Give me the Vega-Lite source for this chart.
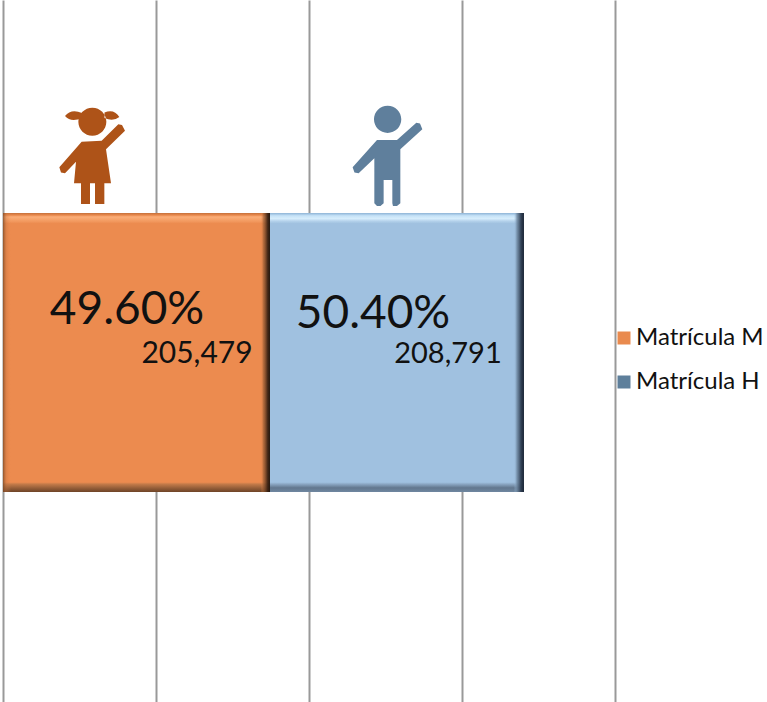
{"$schema":"https://vega.github.io/schema/vega-lite/v6.json","width":767,"height":702,"padding":0,"autosize":{"type":"none"},"background":"white","config":{"view":{"stroke":null},"text":{"font":"Lato"},"legend":{"labelFont":"Lato"}},
"data":{"values":[{"grupo":"Matrícula","serie":"Matrícula M","orden":1,"longitud":209400,"matricula":205479,"porcentaje":0.496},{"grupo":"Matrícula","serie":"Matrícula H","orden":2,"longitud":199200,"matricula":208791,"porcentaje":0.504}]},
"transform":[{"stack":"longitud","groupby":["grupo"],"sort":[{"field":"orden","order":"ascending"}],"as":["x0","x1"]}],
"encoding":{"x":{"field":"x0","type":"quantitative","title":null,"scale":{"domain":[-2353,599216],"nice":false,"zero":false},"axis":{"values":[0,120000,240000,360000,480000],"grid":true,"gridColor":"#999999","gridWidth":2,"domain":false,"ticks":false,"labels":false,"title":null}},"y":{"field":"grupo","type":"nominal","title":null,"axis":null,"scale":{"paddingInner":0,"paddingOuter":0.758,"align":0.5035}}},
"layer":[
{"mark":{"type":"bar"},"encoding":{"x2":{"field":"x1"},"color":{"field":"serie","type":"nominal","scale":{"domain":["Matrícula M","Matrícula H"],"range":["#E98A4E","#5E7F9B"]},"legend":{"title":null,"orient":"none","legendX":612,"legendY":326,"padding":0,"symbolType":"square","symbolSize":169,"symbolStrokeWidth":0,"symbolOpacity":1,"labelFontSize":24,"labelColor":"#111111","labelOffset":0,"rowPadding":20,"labelLimit":200}}}},
{"transform":[{"filter":"datum.serie==='Matrícula M'"}],"mark":{"type":"bar","fill":{"gradient":"linear","x1":0,"y1":0,"x2":0,"y2":1,"stops":[{"offset":0,"color":"#C4703A"},{"offset":0.008,"color":"#E98A4E"},{"offset":0.014,"color":"#FBAE78"},{"offset":0.03,"color":"#F2995F"},{"offset":0.038,"color":"#EC8B4F"},{"offset":0.965,"color":"#EC8B4F"},{"offset":0.972,"color":"#C27A49"},{"offset":0.988,"color":"#8F5A36"},{"offset":1,"color":"#6E4427"}]}},"encoding":{"x2":{"field":"x1"}}},
{"transform":[{"filter":"datum.serie==='Matrícula M'"}],"mark":{"type":"bar","fill":{"gradient":"linear","x1":0,"y1":0,"x2":1,"y2":0,"stops":[{"offset":0,"color":"rgba(120,70,35,0.8)"},{"offset":0.012,"color":"rgba(190,110,60,0.35)"},{"offset":0.03,"color":"rgba(236,139,79,0)"},{"offset":0.965,"color":"rgba(236,139,79,0)"},{"offset":0.975,"color":"rgba(150,90,50,0.6)"},{"offset":0.99,"color":"rgba(60,35,20,0.9)"},{"offset":1,"color":"rgba(30,18,10,1)"}]}},"encoding":{"x2":{"field":"x1"}}},
{"transform":[{"filter":"datum.serie==='Matrícula H'"}],"mark":{"type":"bar","fill":{"gradient":"linear","x1":0,"y1":0,"x2":0,"y2":1,"stops":[{"offset":0,"color":"#8DB3D6"},{"offset":0.01,"color":"#C5E2F7"},{"offset":0.02,"color":"#D6EDFC"},{"offset":0.03,"color":"#B2D0EA"},{"offset":0.038,"color":"#A0C1E0"},{"offset":0.965,"color":"#A0C1E0"},{"offset":0.972,"color":"#8AA6C2"},{"offset":0.985,"color":"#62778E"},{"offset":1,"color":"#6F87A0"}]}},"encoding":{"x2":{"field":"x1"}}},
{"transform":[{"filter":"datum.serie==='Matrícula H'"}],"mark":{"type":"bar","fill":{"gradient":"linear","x1":0,"y1":0,"x2":1,"y2":0,"stops":[{"offset":0,"color":"rgba(160,193,224,0)"},{"offset":0.96,"color":"rgba(160,193,224,0)"},{"offset":0.972,"color":"rgba(110,135,160,0.8)"},{"offset":0.988,"color":"rgba(45,60,80,0.95)"},{"offset":1,"color":"rgba(25,35,50,1)"}]}},"encoding":{"x2":{"field":"x1"}}},
{"transform":[{"filter":"datum.serie==='Matrícula M'"}],"mark":{"type":"point","filled":true,"opacity":1,"size":10000,"fill":"#AE5318","stroke":null,"xOffset":89,"yOffset":-196.5,"shape":"M-.273 -.687C-.273 -.842 -.148 -.967 .007 -.967C.162 -.967 .287 -.842 .287 -.687C.287 -.532 .162 -.407 .007 -.407C-.148 -.407 -.273 -.532 -.273 -.687ZM-.54 -.8Q-.42 -.95 -.2 -.86L-.2 -.76Q-.42 -.66 -.54 -.8ZM.547 -.78Q.44 -.95 .25 -.87L.25 -.76Q.42 -.68 .547 -.78ZM-.207 -.287L.193 -.307L.527 -.633L.6 -.62L.66 -.507L.28 -.133L.38 .547L.247 .547L.247 .96L.06 .96L.06 .547L-.04 .547L-.04 .96L-.22 .96L-.22 .547L-.36 .547L-.32 .113L-.54 .347L-.62 .33L-.653 .227Z"}},
{"transform":[{"filter":"datum.serie==='Matrícula H'"}],"mark":{"type":"point","filled":true,"opacity":1,"size":10000,"fill":"#5F7F9C","stroke":null,"xOffset":117,"yOffset":-196.5,"shape":"M-.26 -.733C-.26 -.884 -.138 -1.006 .013 -1.006C.164 -1.006 .286 -.884 .286 -.733C.286 -.582 .164 -.46 .013 -.46C-.138 -.46 -.26 -.582 -.26 -.733ZM-.2 -.32L.2 -.32L.587 -.667L.66 -.65L.707 -.533L.267 -.133L.267 .947L.2 1L.12 1L.107 .947L.107 .48L-.067 .48L-.067 .947L-.13 1L-.2 1L-.253 .947L-.253 .047L-.567 .347L-.65 .33L-.687 .227Z"}},
{"transform":[{"filter":"datum.serie==='Matrícula M'"}],"mark":{"type":"text","fontSize":46,"color":"#111111","align":"center","baseline":"middle","dx":124,"dy":-42},"encoding":{"text":{"field":"porcentaje","type":"quantitative","format":".2%"}}},
{"transform":[{"filter":"datum.serie==='Matrícula H'"}],"mark":{"type":"text","fontSize":46,"color":"#111111","align":"center","baseline":"middle","dx":103,"dy":-38},"encoding":{"text":{"field":"porcentaje","type":"quantitative","format":".2%"}}},
{"transform":[{"filter":"datum.serie==='Matrícula M'"}],"mark":{"type":"text","fontSize":30,"color":"#111111","align":"center","baseline":"middle","dx":194,"dy":2},"encoding":{"text":{"field":"matricula","type":"quantitative","format":","}}},
{"transform":[{"filter":"datum.serie==='Matrícula H'"}],"mark":{"type":"text","fontSize":29,"color":"#111111","align":"center","baseline":"middle","dx":178,"dy":2},"encoding":{"text":{"field":"matricula","type":"quantitative","format":","}}}
]}
